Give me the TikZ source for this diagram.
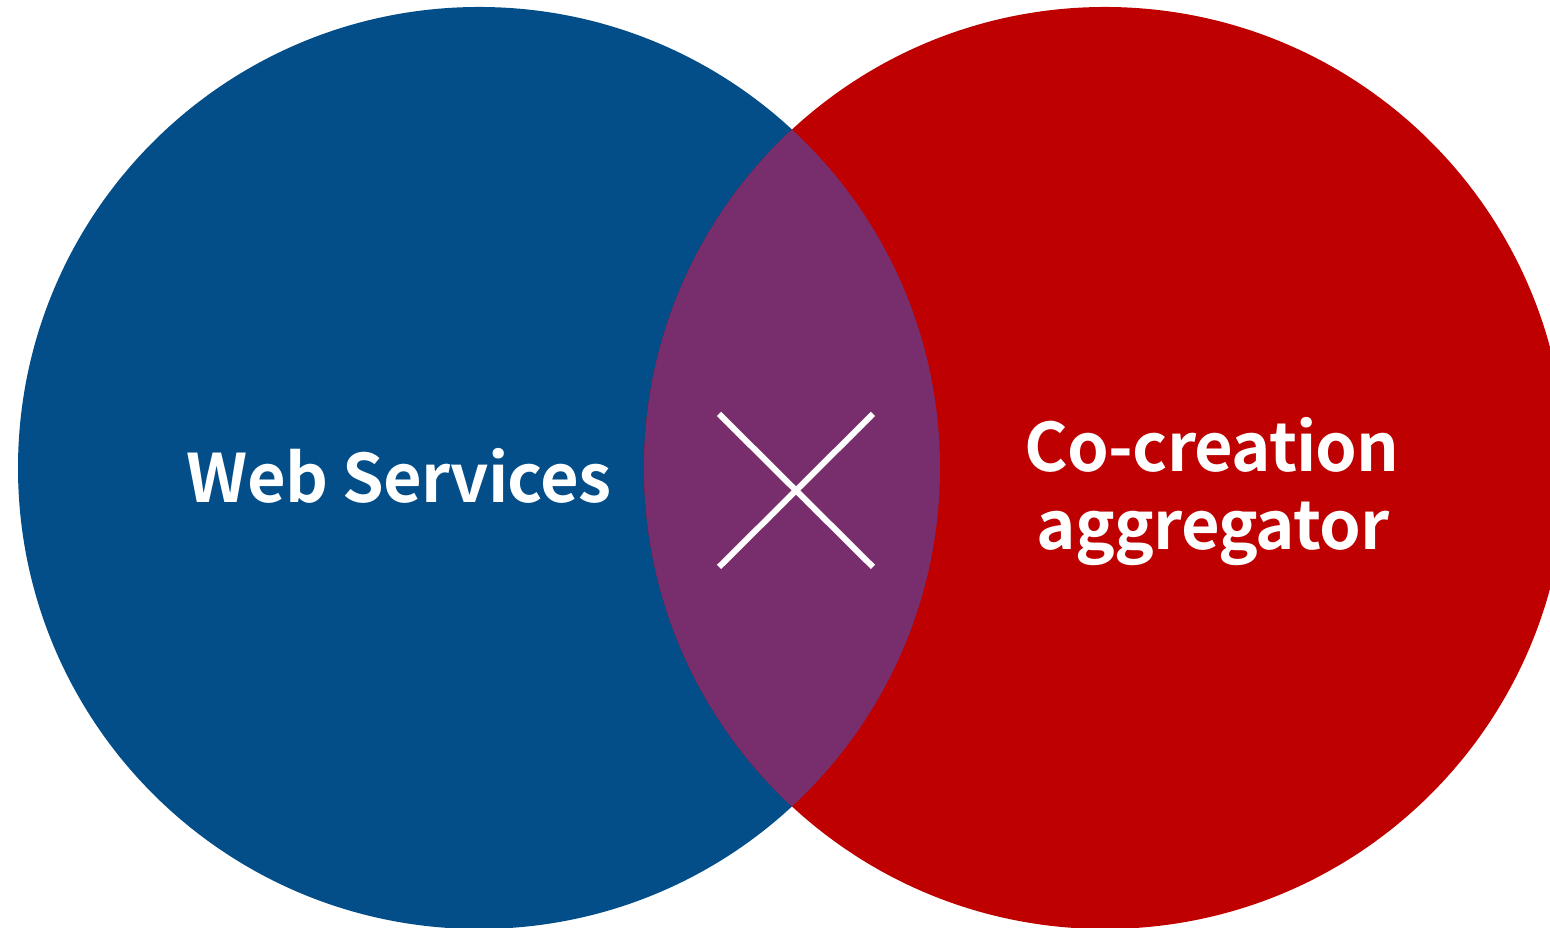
\documentclass[tikz,border=0pt]{standalone}
\usepackage{tikz}
\usepackage{fontspec}
\setmainfont{Noto Sans CJK JP}[BoldFont={* Bold}]
\newfontfamily\vennfont{Noto Sans CJK JP Bold}[LetterSpace=-1.2]
\definecolor{wsblue}{HTML}{034E88}
\definecolor{ccred}{HTML}{BE0000}
\definecolor{mixpurple}{HTML}{782E6C}
\newcommand {\disc}[2] {(#1,#2) circle (4.61)}
\newcommand {\vlabel}[4] {\node[anchor=base, text=white, font=\vennfont\fontsize{19}{23}\selectfont] (#1) at (#2,#3) {#4};}

\begin{document}
\begin{tikzpicture}
	\useasboundingbox (0,0) rectangle (15.5,9.28);
	\fill[wsblue] \disc{4.79}{4.60};
	\fill[ccred] \disc{11.05}{4.60};
	\begin{scope}
		\clip \disc{4.79}{4.60};
		\fill[mixpurple] \disc{11.05}{4.60};
	\end{scope}
	\vlabel{ws}{3.99}{4.25}{Web Services}
	\vlabel{co}{12.12}{4.56}{Co-creation}
	\vlabel{agg}{12.13}{3.78}{aggregator}
	\draw[white, line width=0.6mm] (7.19,5.14) -- (8.73,3.61) (7.19,3.61) -- (8.73,5.14);
\end{tikzpicture}
\end{document}
